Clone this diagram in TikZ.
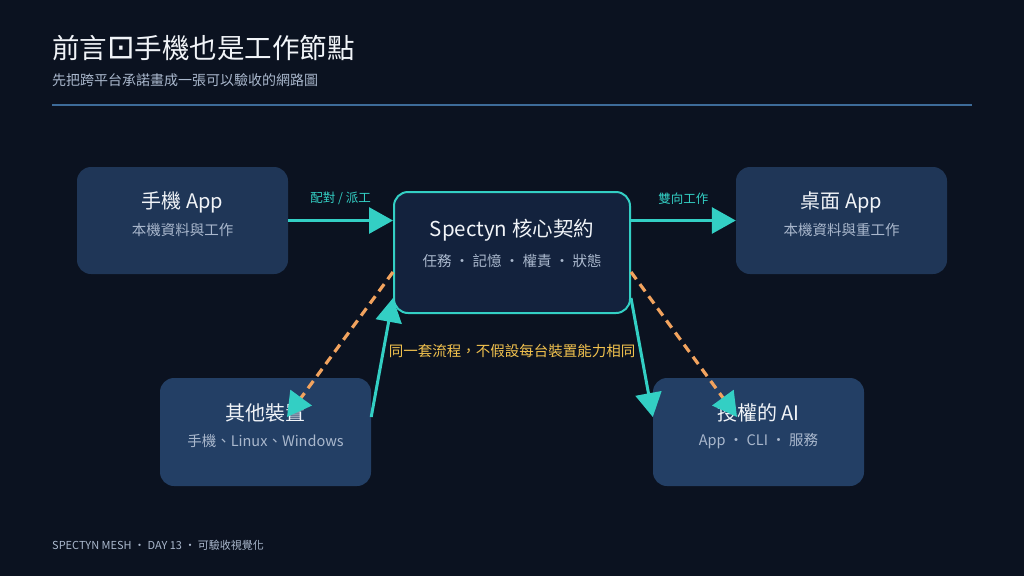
\documentclass[tikz,border=0pt]{standalone}
\usepackage{fontspec}
\setmainfont{Noto Sans CJK TC}
\newfontfamily\symfont{DejaVu Sans}
\usetikzlibrary{arrows.meta, positioning}

\definecolor{bgnavy}{HTML}{0B1220}
\definecolor{cardtop}{HTML}{1F3657}
\definecolor{cardlow}{HTML}{233F65}
\definecolor{corefill}{HTML}{13223D}
\definecolor{tealc}{HTML}{33CFC4}
\definecolor{orangec}{HTML}{F2A35E}
\definecolor{yellowc}{HTML}{F2C24E}
\definecolor{titlec}{HTML}{F1F4F8}
\definecolor{subc}{HTML}{AAB8CD}
\definecolor{rulec}{HTML}{3D6B99}

\tikzset{
  card/.style={rounded corners=14pt, minimum width=211pt, minimum height=107pt, inner sep=0pt},
  cardname/.style={text=titlec, font=\fontsize{20}{23}\selectfont},
  carddesc/.style={text=subc, font=\fontsize{14.5}{17}\selectfont},
  flow/.style={draw=tealc, line width=3pt, -{Triangle[length=24pt, width=26pt]}},
  sync/.style={draw=orangec, line width=3.2pt, dash pattern=on 9pt off 6pt,
    -{Triangle[length=24pt, width=26pt, color=tealc]}},
  edgetag/.style={text=tealc, font=\fontsize{12.5}{15}\selectfont}
}

\begin{document}
\begin{tikzpicture}[x=1pt, y=-1pt]
  \fill[bgnavy] (0,0) rectangle (1024,576);
  \useasboundingbox (0,0) rectangle (1024,576);

  % header
  \node[anchor=base west, inner sep=0pt, text=titlec, font=\fontsize{27.5}{31}\selectfont]
    (title) at (52,58) {前言{\symfont\fontsize{33}{33}\selectfont ⊡}手機也是工作節點};
  \node[anchor=base west, inner sep=0pt, text=subc, font=\fontsize{14}{17}\selectfont]
    (subtitle) at (52,85) {先把跨平台承諾畫成一張可以驗收的網路圖};
  \draw[rulec, line width=1.2pt] (52,105) -- (972,105);

  % cards
  \node[card, fill=cardtop] (phone) at (182.5,220.5) {};
  \node[card, fill=cardtop] (desk) at (841.5,220.5) {};
  \node[card, fill=cardlow, minimum height=108pt] (others) at (265.5,432) {};
  \node[card, fill=cardlow, minimum height=108pt] (agent) at (758.5,432) {};
  \node[card, fill=corefill, draw=tealc, line width=2pt, minimum width=236pt, minimum height=121pt]
    (core) at (512,252.5) {};

  \node[cardname] at ([yshift=18pt]phone.center) {手機 App};
  \node[carddesc] at ([yshift=-9pt]phone.center) {本機資料與工作};
  \node[cardname] at ([yshift=18pt]desk.center) {桌面 App};
  \node[carddesc] at ([yshift=-9pt]desk.center) {本機資料與重工作};
  \node[cardname] at ([yshift=19pt]others.center) {其他裝置};
  \node[carddesc] at ([yshift=-9pt]others.center) {手機、Linux、Windows};
  \node[cardname] at ([yshift=19pt]agent.center) {授權的 AI};
  \node[carddesc] at ([yshift=-9pt]agent.center) {App · CLI · 服務};
  \node[cardname, font=\fontsize{20.5}{23}\selectfont] at ([yshift=22pt]core.center) {Spectyn 核心契約};
  \node[carddesc] at ([yshift=-8pt]core.center) {任務 · 記憶 · 權責 · 狀態};

  % connectors
  \draw[flow] (phone.east) -- (phone.east -| core.west)
    node[edgetag, midway, above=11pt] {配對 / 派工};
  \draw[flow] (desk.west -| core.east) -- (desk.west)
    node[edgetag, midway, above=11pt] {雙向工作};
  \draw[flow] ([yshift=15pt]others.east) -- ([yshift=-45.5pt]core.west);
  \draw[flow] ([yshift=-45.5pt]core.east) -- ([yshift=15pt]agent.west);
  \draw[sync] ([yshift=-19.5pt]core.west) -- ([xshift=21.5pt, yshift=15pt]others.center);
  \draw[sync] ([yshift=-19.5pt]core.east) -- ([xshift=-21.5pt, yshift=15pt]agent.center);

  \node[text=yellowc, font=\fontsize{14.5}{17}\selectfont] (note) at (512,351) {同一套流程，不假設每台裝置能力相同};

  % footer
  \node[anchor=base west, inner sep=0pt, text=subc, font=\fontsize{11}{13}\selectfont]
    (footer) at (52,549) {SPECTYN MESH · DAY 13 · 可驗收視覺化};
\end{tikzpicture}
\end{document}
